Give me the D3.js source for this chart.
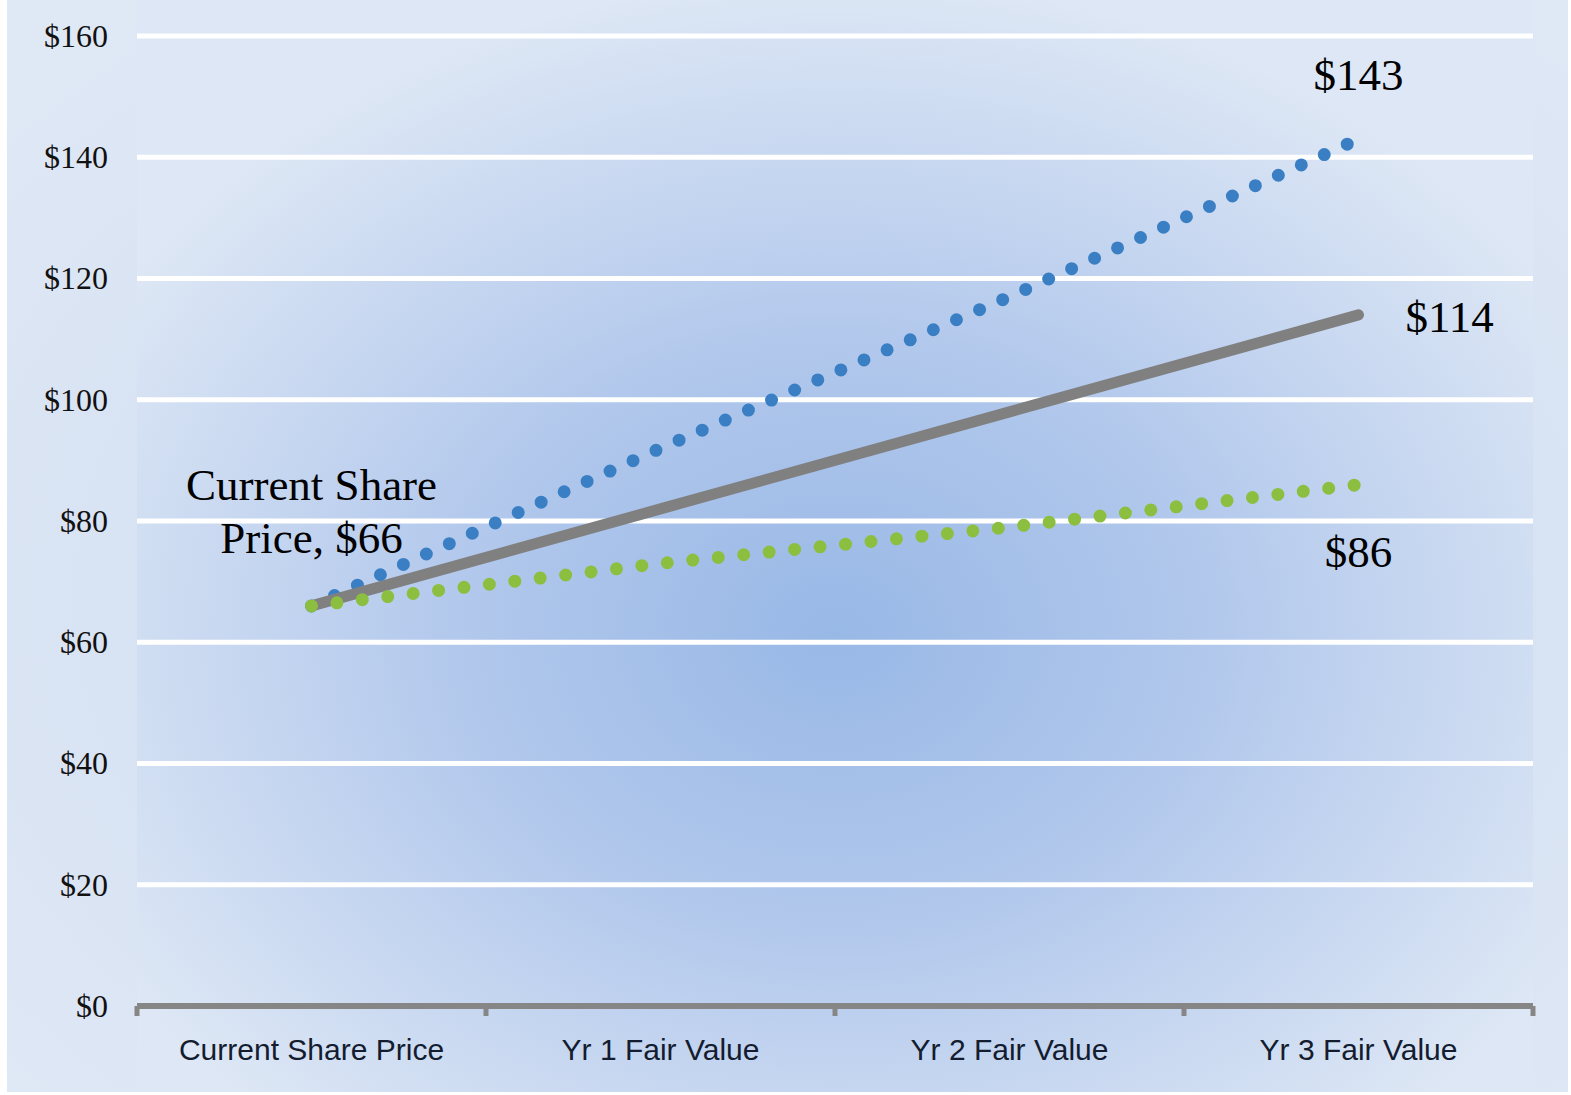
<!DOCTYPE html>
<html>
<head>
<meta charset="utf-8">
<script src="https://cdn.jsdelivr.net/npm/d3@7"></script>
<style>
  body { margin: 0; background: #fff; }
  svg { display: block; }
</style>
</head>
<body>
<svg id="chart" width="1571" height="1095"></svg>
<script>
const categories = ['Current Share Price', 'Yr 1 Fair Value', 'Yr 2 Fair Value', 'Yr 3 Fair Value']
const highCase = [66, 92, 117, 143]
const baseCase = [66, 82, 98, 114]
const lowCase = [66, 73, 79, 86]
const yTicks = [0, 20, 40, 60, 80, 100, 120, 140, 160]

const svg = d3.select('#chart')
const plotLeft = 137, plotRight = 1533, plotTop = 36, plotBottom = 1006

// backgrounds
const defs = svg.append('defs')
const outerGrad = defs.append('radialGradient').attr('id', 'outerGrad')
  .attr('cx', '0.53').attr('cy', '0.55').attr('r', '0.7')
outerGrad.append('stop').attr('offset', 0).attr('stop-color', '#cad9f0')
outerGrad.append('stop').attr('offset', 1).attr('stop-color', '#dfe8f5')
const plotGrad = defs.append('radialGradient').attr('id', 'plotGrad')
  .attr('cx', '0.5').attr('cy', '0.58').attr('r', '0.6')
plotGrad.append('stop').attr('offset', 0).attr('stop-color', '#98b8e6')
plotGrad.append('stop').attr('offset', 0.45).attr('stop-color', '#b2c8ec')
plotGrad.append('stop').attr('offset', 1).attr('stop-color', '#dde7f5')

svg.append('rect').attr('x', 7).attr('y', 0).attr('width', 1561).attr('height', 1092)
  .attr('fill', 'url(#outerGrad)')
svg.append('rect').attr('x', plotLeft).attr('y', 0).attr('width', plotRight - plotLeft).attr('height', 1092)
  .attr('fill', 'url(#plotGrad)')

const x = d3.scaleBand().domain(categories).range([plotLeft, plotRight]).padding(0)
const y = d3.scaleLinear().domain([0, 160]).range([plotBottom, plotTop])
const cx = d => x(d) + x.bandwidth() / 2

// gridlines
svg.append('g').selectAll('line').data(yTicks.filter(d => d > 0)).join('line')
  .attr('x1', plotLeft).attr('x2', plotRight)
  .attr('y1', d => y(d)).attr('y2', d => y(d))
  .attr('stroke', '#fff').attr('stroke-width', 5)

// y axis labels
const yAxis = d3.axisLeft(y).tickValues(yTicks).tickFormat(d => '$' + d).tickSize(0).tickPadding(0)
const yg = svg.append('g').attr('transform', 'translate(108,0)').call(yAxis)
yg.select('.domain').remove()
yg.selectAll('text').style('font-family', '"Liberation Serif", "Times New Roman", serif')
  .style('font-size', '32px').style('fill', '#111')

// x axis
const xAxis = d3.axisBottom(x).tickSize(0).tickPadding(0)
const xg = svg.append('g').attr('transform', `translate(0,${plotBottom})`).call(xAxis)
xg.select('.domain').remove()
xg.selectAll('text').attr('dy', 0).attr('y', 54)
  .style('font-family', '"Liberation Sans", Arial, sans-serif')
  .style('font-size', '30px').style('fill', '#141c30')
svg.append('line').attr('x1', plotLeft).attr('x2', plotRight).attr('y1', plotBottom).attr('y2', plotBottom)
  .attr('stroke', '#868686').attr('stroke-width', 6)
const bounds = categories.map(c => x(c)).concat([plotRight])
svg.append('g').selectAll('line').data(bounds).join('line')
  .attr('x1', d => d).attr('x2', d => d)
  .attr('y1', plotBottom).attr('y2', plotBottom + 10)
  .attr('stroke', '#868686').attr('stroke-width', 5)

// lines
const line = d3.line().x((d, i) => cx(categories[i])).y(d => y(d))
svg.append('path').datum(highCase).attr('d', line)
  .attr('fill', 'none').attr('stroke', '#3a7fc4').attr('stroke-width', 13)
  .attr('stroke-linecap', 'round').attr('stroke-dasharray', '0 25.2')
svg.append('path').datum(baseCase).attr('d', line)
  .attr('fill', 'none').attr('stroke', '#808080').attr('stroke-width', 11)
  .attr('stroke-linecap', 'round')
svg.append('path').datum(lowCase).attr('d', line)
  .attr('fill', 'none').attr('stroke', '#8cbf3f').attr('stroke-width', 13)
  .attr('stroke-linecap', 'round').attr('stroke-dasharray', '0 25.6')

// data labels
const labelFont = '"Liberation Serif", "Times New Roman", serif'
const last = categories.length - 1
function label(tx, ty, txt, anchor) {
  svg.append('text').attr('x', tx).attr('y', ty).attr('text-anchor', anchor || 'middle')
    .style('font-family', labelFont).style('font-size', '45px').style('fill', '#000').text(txt)
}
label(cx(categories[last]), y(highCase[last]) - 49, '$' + highCase[last])
label(cx(categories[last]) + 47, y(baseCase[last]) + 17, '$' + baseCase[last], 'start')
label(cx(categories[last]), y(lowCase[last]) + 82, '$' + lowCase[last])
label(cx(categories[0]), y(baseCase[0]) - 106, 'Current Share')
label(cx(categories[0]), y(baseCase[0]) - 53, 'Price, $' + baseCase[0])
</script>
</body>
</html>
